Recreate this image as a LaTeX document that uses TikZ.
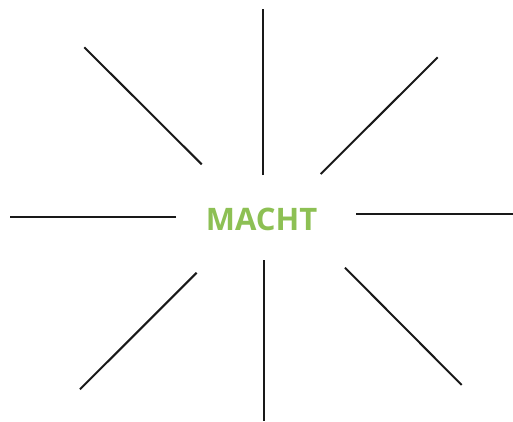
\documentclass[tikz,border=0pt]{standalone}
\usepackage{fontspec}
\setmainfont{Open Sans}
\usetikzlibrary{positioning}
\definecolor{machtgreen}{RGB}{141,192,84}

\begin{document}
\begin{tikzpicture}[x=1pt, y=-1pt,
    ray/.style={draw=black!90, line width=2pt},
    title/.style={font=\fontsize{31}{31}\selectfont\bfseries, text=machtgreen, inner sep=0pt}]
  \useasboundingbox (0,0) rectangle (513,421);
  \node[title] (macht) at (261.7,219) {MACHT};
  % rays: inner end, outer end
  \foreach \dir/\ix/\iy/\ox/\oy in {n/262.7/175/262.7/9.3, ne/320.7/174/437.7/57.3,
      e/356/214/513/214, se/345/267.7/461.7/385, s/264/260.3/264/420.7,
      sw/196.7/272.7/80/389.3, w/176/216.7/10/216.7, nw/201.7/164.3/84.3/47.3}{
    \coordinate (\dir-in) at (\ix,\iy);
    \coordinate (\dir-out) at (\ox,\oy);
    \draw[ray] (\dir-in) -- (\dir-out);
  }
\end{tikzpicture}
\end{document}
